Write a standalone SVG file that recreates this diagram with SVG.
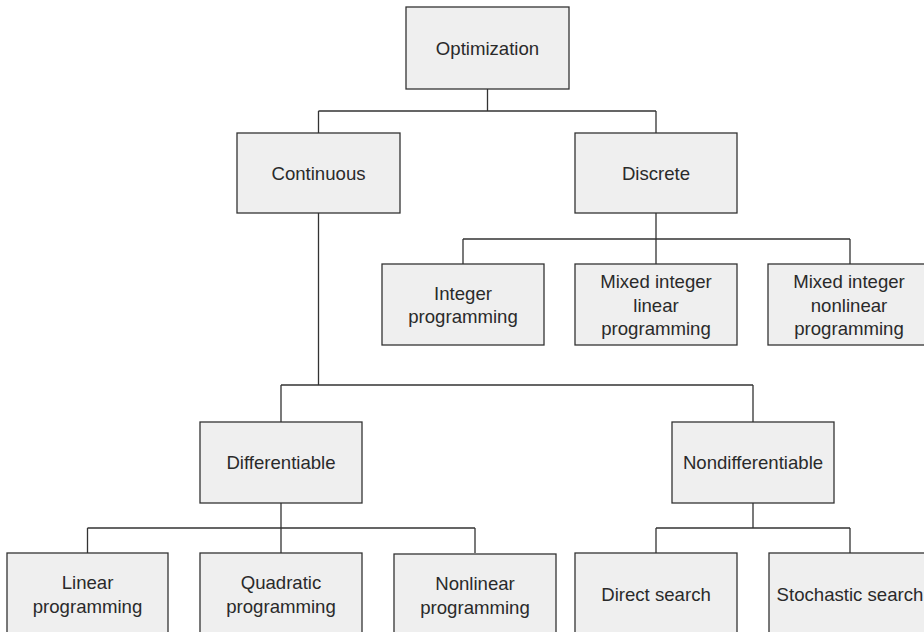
<svg xmlns="http://www.w3.org/2000/svg" width="924" height="632" viewBox="0 0 924 632">
<style>
.box{fill:#efefef;stroke:#333;stroke-width:1.3}
.lbl{font-family:"Liberation Sans",Arial,sans-serif;font-size:18.6px;fill:#2a2a2a;text-anchor:middle}
.con{fill:none;stroke:#333;stroke-width:1.3}
</style>
<rect width="924" height="632" fill="#fff"/>
<g id="connectors" class="con">
<path d="M487.5,89V111M318.5,111H656M318.5,111V133M656,111V133"/>
<path d="M318.5,213V385M281,385H753M281,385V422M753,385V422"/>
<path d="M656,213V239M463,239H850M463,239V264M656,239V264M850,239V264"/>
<path d="M281,503V528M87.5,528H475M87.5,528V553M281,528V553M475,528V553"/>
<path d="M753,503V528M656,528H850M656,528V553M850,528V553"/>
</g>
<g id="n-optimization"><rect class="box" x="406" y="7" width="163" height="82"/><text class="lbl" x="487.5" y="55">Optimization</text></g>
<g id="n-continuous"><rect class="box" x="237" y="133" width="163" height="80"/><text class="lbl" x="318.5" y="180">Continuous</text></g>
<g id="n-discrete"><rect class="box" x="575" y="133" width="162" height="80"/><text class="lbl" x="656" y="180">Discrete</text></g>
<g id="n-integer"><rect class="box" x="382" y="264" width="162" height="81"/><text class="lbl" x="463" y="299.5">Integer</text><text class="lbl" x="463" y="323">programming</text></g>
<g id="n-milp"><rect class="box" x="575" y="264" width="162" height="81"/><text class="lbl" x="656" y="288">Mixed integer</text><text class="lbl" x="656" y="311.5">linear</text><text class="lbl" x="656" y="335">programming</text></g>
<g id="n-minlp"><rect class="box" x="768" y="264" width="162" height="81"/><text class="lbl" x="849" y="288">Mixed integer</text><text class="lbl" x="849" y="311.5">nonlinear</text><text class="lbl" x="849" y="335">programming</text></g>
<g id="n-differentiable"><rect class="box" x="200" y="422" width="162" height="81"/><text class="lbl" x="281" y="469">Differentiable</text></g>
<g id="n-nondifferentiable"><rect class="box" x="672" y="422" width="162" height="81"/><text class="lbl" x="753" y="469">Nondifferentiable</text></g>
<g id="n-linear"><rect class="box" x="7" y="553" width="161" height="82"/><text class="lbl" x="87.5" y="589">Linear</text><text class="lbl" x="87.5" y="612.5">programming</text></g>
<g id="n-quadratic"><rect class="box" x="200" y="553" width="162" height="82"/><text class="lbl" x="281" y="589">Quadratic</text><text class="lbl" x="281" y="612.5">programming</text></g>
<g id="n-nonlinear"><rect class="box" x="394" y="554" width="162" height="82"/><text class="lbl" x="475" y="590">Nonlinear</text><text class="lbl" x="475" y="613.5">programming</text></g>
<g id="n-direct"><rect class="box" x="575" y="553" width="162" height="82"/><text class="lbl" x="656" y="601">Direct search</text></g>
<g id="n-stochastic"><rect class="box" x="769" y="553" width="162" height="82"/><text class="lbl" x="850" y="601">Stochastic search</text></g>
</svg>
